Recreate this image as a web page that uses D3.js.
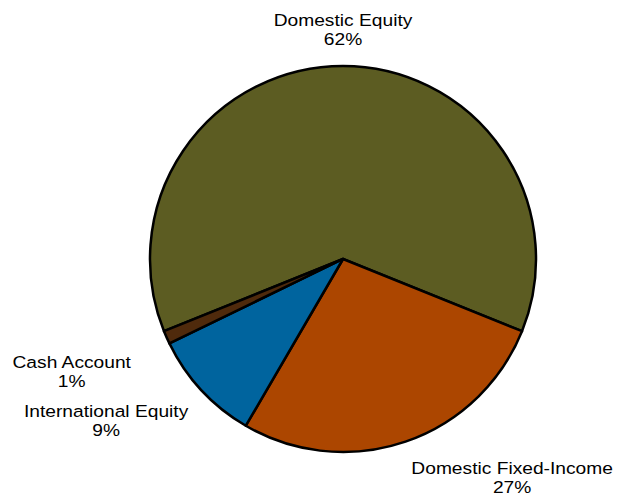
<!DOCTYPE html>
<html>
<head>
<meta charset="utf-8">
<script src="https://cdn.jsdelivr.net/npm/d3@7"></script>
<style>
  body { margin: 0; background: #fff; }
  text { font-family: "Liberation Sans", Arial, sans-serif; fill: #000; }
</style>
</head>
<body>
<svg id="chart" width="618" height="498"></svg>
<script>
// slices, clockwise from the top
const categories = ["Domestic Equity", "Domestic Fixed-Income", "International Equity", "Cash Account"];
const shares = [62.2, 27.3, 9.4, 1.1];
const pctLabels = ["62%", "27%", "9%", "1%"];
const colors = ["#5c5c22", "#ac4600", "#00649e", "#4f2a0c"];

function drawPie(svgSelector) {
    const svg = d3.select(svgSelector);
    svg.selectAll("*").remove();

    const cx = 343, cy = 259, radius = 193;
    const total = d3.sum(shares);

    // first slice is centred on 12 o'clock
    const start = -Math.PI * shares[0] / total;
    const pie = d3.pie()
        .sort(null)
        .startAngle(start)
        .endAngle(start + 2 * Math.PI);

    const arc = d3.arc().innerRadius(0).outerRadius(radius);

    const slices = pie(shares);
    const g = svg.append("g").attr("transform", `translate(${cx},${cy})`);

    g.selectAll("path")
        .data(slices)
        .enter()
        .append("path")
        .attr("d", arc)
        .attr("fill", (d, i) => colors[i])
        .attr("stroke", "#000")
        .attr("stroke-width", 2.5)
        .attr("stroke-linejoin", "round");

    // labels sit just outside the rim, along the slice's middle angle
    const lineH = 19;
    slices.forEach((d, i) => {
        const mid = (d.startAngle + d.endAngle) / 2;
        // thin slice: push its label a little further out
        const rl = (d.endAngle - d.startAngle) < 0.15 ? 232 : 211;
        const px = Math.sin(mid) * rl;
        const py = -Math.cos(mid) * rl;
        const sx = Math.sin(mid), sy = -Math.cos(mid);

        let anchor = "middle";
        if (sx > 0.2) anchor = "start";
        else if (sx < -0.2) anchor = "end";

        // first baseline: above the point for upper slices, below for lower
        const y0 = sy < 0 ? py - 3 - lineH : py + 15;

        const lab = g.append("g")
            .attr("transform", `translate(${px},${y0}) scale(1.13,1)`);
        lab.append("text")
            .attr("text-anchor", anchor)
            .attr("x", 0)
            .attr("y", 0)
            .style("font-size", "17px")
            .text(categories[i]);

        // percentage centred under the category name
        const w = lab.select("text").node().getComputedTextLength();
        let xc = 0;
        if (anchor === "start") xc = w / 2;
        if (anchor === "end") xc = -w / 2;
        lab.append("text")
            .attr("text-anchor", "middle")
            .attr("x", xc)
            .attr("y", lineH)
            .style("font-size", "17px")
            .text(pctLabels[i]);
    });
}

drawPie("#chart");
</script>
</body>
</html>
